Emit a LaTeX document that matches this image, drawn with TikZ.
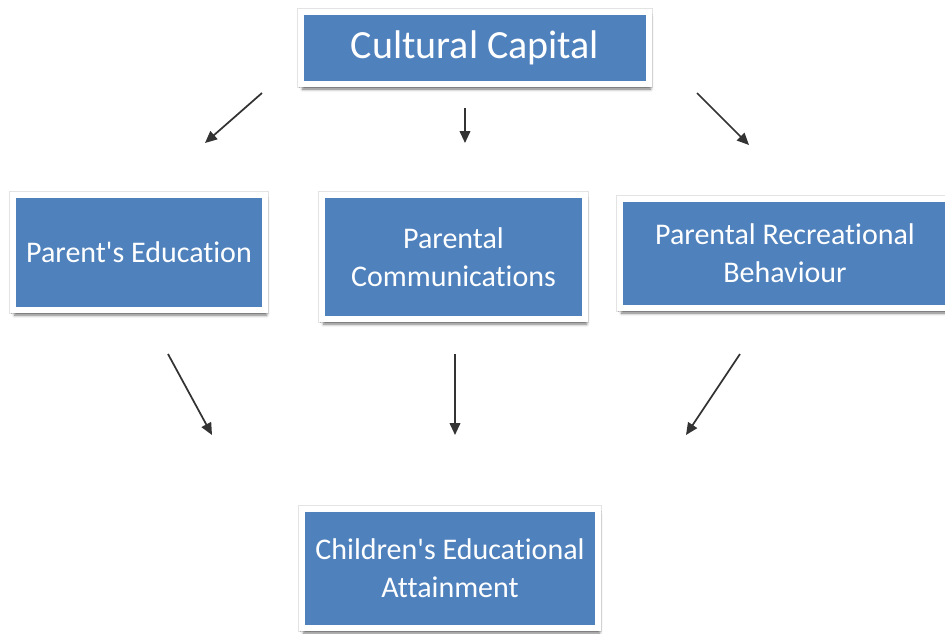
\documentclass[tikz,border=0pt]{standalone}
\usepackage{fontspec}
\setmainfont{Carlito}[Ligatures={NoCommon}]
\usetikzlibrary{arrows.meta,shadows.blur}
\definecolor{boxblue}{HTML}{4F81BD}
\definecolor{arrowgray}{HTML}{333333}
\tikzset{
  box/.style={
    rectangle, fill=boxblue, draw=white, line width=4.5pt,
    text=white, align=center, inner sep=0pt,
    preaction={draw=gray!22, line width=5.6pt},
    blur shadow={shadow xshift=1.2pt, shadow yshift=-3.8pt,
                 shadow blur radius=2.2pt, shadow opacity=55}
  },
  toptext/.style={font=\fontsize{30}{36}\selectfont},
  subtext/.style={font=\fontsize{22.5}{28.3}\selectfont},
  link/.style={draw=arrowgray, line width=1.3pt,
    -{Triangle[length=9pt,width=8pt]}, shorten >=0pt}
}
\begin{document}
\begin{tikzpicture}[x=0.75pt,y=-0.75pt]
  \useasboundingbox (0,0) rectangle (945,633);

  % boxes
  \node[box, toptext, minimum width=348*0.75pt, minimum height=72*0.75pt]
    (cc) at (475,48) {Cultural Capital};
  \node[box, subtext, minimum width=252*0.75pt, minimum height=115*0.75pt]
    (pe) at (139,252.5) {Parent\textquotesingle s Education};
  \node[box, subtext, minimum width=263*0.75pt, minimum height=124*0.75pt]
    (pc) at (453.5,257) {Parental\\Communications};
  \node[box, subtext, minimum width=330*0.75pt, minimum height=109*0.75pt]
    (pr) at (785,253.5) {Parental Recreational\\Behaviour};
  \node[box, subtext, minimum width=296*0.75pt, minimum height=119*0.75pt]
    (ch) at (450,568.5) {Children\textquotesingle s Educational\\Attainment};

  % free-standing arrow ends
  \coordinate (a1s) at (262,93);  \coordinate (a1e) at (205,143);
  \coordinate (a2s) at (465,108); \coordinate (a2e) at (465,143);
  \coordinate (a3s) at (697,93);  \coordinate (a3e) at (749,145);
  \coordinate (a4s) at (168,354); \coordinate (a4e) at (212,435);
  \coordinate (a5s) at (455,354); \coordinate (a5e) at (455,435);
  \coordinate (a6s) at (740,354); \coordinate (a6e) at (686,435);

  % arrows
  \draw[link] (a1s) -- (a1e);
  \draw[link] (a2s) -- (a2e);
  \draw[link] (a3s) -- (a3e);
  \draw[link] (a4s) -- (a4e);
  \draw[link] (a5s) -- (a5e);
  \draw[link] (a6s) -- (a6e);
\end{tikzpicture}
\end{document}
